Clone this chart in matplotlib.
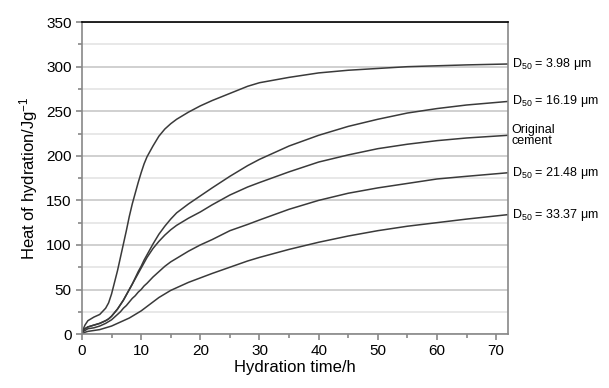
import numpy as np
import matplotlib
matplotlib.use("Agg")
import matplotlib.pyplot as plt
from matplotlib.ticker import MultipleLocator

plt.rcParams['font.family'] = ['Liberation Sans', 'DejaVu Sans']
plt.rcParams['mathtext.fontset'] = 'custom'
plt.rcParams['mathtext.rm'] = 'Liberation Sans'
plt.rcParams['mathtext.it'] = 'Liberation Sans'

# hydration time (h)
time = [0, 0.25, 0.5, 1, 1.5, 2, 3, 4, 4.5, 5, 5.5, 6, 6.5, 7, 7.5, 8, 8.5,
        9, 9.5, 10, 10.5, 11, 12, 13, 14, 15, 16, 18, 20, 22, 25, 28, 30,
        35, 40, 45, 50, 55, 60, 65, 72]

# heat of hydration (J/g)
d398 = [2, 6, 10, 15, 17, 19, 22, 29, 35, 45, 58, 71, 86, 101, 116, 132, 146,
        158, 170, 181, 191, 199, 211, 222, 230, 236, 241, 249, 256, 262, 270,
        278, 282, 288, 293, 296, 298, 300, 301, 302, 303]
d1619 = [2, 4, 6, 8, 9, 10, 12, 15, 17, 20, 24, 28, 33, 38, 44, 50, 56,
         63, 70, 76, 83, 89, 101, 112, 121, 129, 136, 146, 155, 164, 177,
         189, 196, 211, 223, 233, 241, 248, 253, 257, 261]
original = [2, 4, 6, 8, 9, 10, 12, 15, 17, 20, 24, 28, 33, 38, 44, 50, 56,
            62, 68, 74, 80, 86, 96, 104, 111, 117, 122, 130, 137, 145, 156,
            165, 170, 182, 193, 201, 208, 213, 217, 220, 223]
d2148 = [1, 3, 4, 6, 6.5, 7, 9, 12, 14, 16, 19, 22, 25, 29, 32, 36, 40,
         43, 47, 50, 54, 57, 64, 70, 76, 81, 85, 93, 100, 106, 116,
         123, 128, 140, 150, 158, 164, 169, 174, 177, 181]
d3337 = [0, 1, 2, 3, 3.5, 4, 5, 7, 8, 9, 10.5, 12, 13.5, 15, 16.5, 18, 20,
         22, 24, 26, 28.5, 31, 36, 41, 45, 49, 52, 58, 63, 68, 75,
         82, 86, 95, 103, 110, 116, 121, 125, 129, 134]

series = [d398, d1619, original, d2148, d3337]
labels = [r"D$_{50}$ = 3.98 $\mathregular{\mu}$m",
          r"D$_{50}$ = 16.19 $\mathregular{\mu}$m",
          "Original\ncement",
          r"D$_{50}$ = 21.48 $\mathregular{\mu}$m",
          r"D$_{50}$ = 33.37 $\mathregular{\mu}$m"]

fig = plt.figure(figsize=(6.09, 3.88), dpi=100)
ax = fig.add_axes([0.1346, 0.139, 0.6995, 0.804])

for y in series:
    ax.plot(time, y, color='#3a3a3a', lw=1.1)

for y, lab in zip(series, labels):
    ax.text(72.6, y[-1], lab, fontsize=9, va='center', ha='left',
            clip_on=False, linespacing=0.95)

ax.set_xlim(0, 72)
ax.set_ylim(0, 350)
ax.xaxis.set_major_locator(MultipleLocator(10))
ax.xaxis.set_minor_locator(MultipleLocator(5))
ax.yaxis.set_major_locator(MultipleLocator(50))
ax.yaxis.set_minor_locator(MultipleLocator(25))

ax.grid(which='major', axis='y', color='#c8c8c8', lw=1.2)
ax.grid(which='minor', axis='y', color='#e4e4e4', lw=1.2)
ax.set_axisbelow(True)

for s in ['left', 'right', 'bottom']:
    ax.spines[s].set_color('#888888')
    ax.spines[s].set_linewidth(1.2)
ax.spines['top'].set_color('black')
ax.spines['top'].set_linewidth(1.2)

ax.tick_params(which='both', color='#888888', width=1.2, labelsize=11)
ax.tick_params(which='major', length=4)
ax.tick_params(which='minor', length=3)

ax.set_xlabel("Hydration time/h", fontsize=12, labelpad=1)
ax.set_ylabel("Heat of hydration/Jg$^{-1}$", fontsize=12, labelpad=4)

plt.savefig("out.png", dpi=100)
